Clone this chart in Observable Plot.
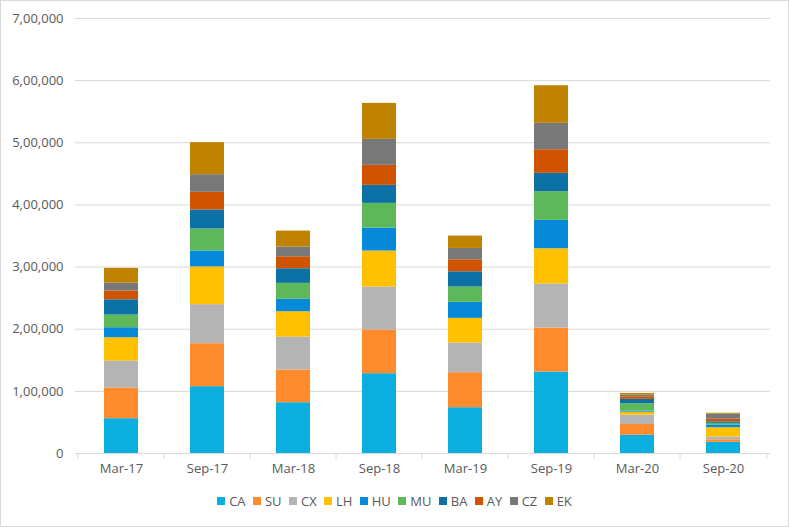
<!DOCTYPE html>
<html><head><meta charset="utf-8">
<script src="https://cdn.jsdelivr.net/npm/d3@7"></script>
<script src="https://cdn.jsdelivr.net/npm/@observablehq/plot@0.6"></script>
<style>
body{margin:0;background:#fff;font-family:"Open Sans",sans-serif;}
#chart{width:787px;height:525px;border:1px solid #d9d9d9;position:relative;overflow:hidden;background:#fff}
.legend{display:flex;justify-content:center;align-items:center;margin-top:3px;font-size:13px;color:#595959;padding-left:0px}
.legend .item{display:flex;align-items:center;margin:0 3.7px}
.legend .sw{width:8px;height:8px;margin-right:4px}
</style></head><body><div id="chart"></div><script>
const periods = ["Mar-17","Sep-17","Mar-18","Sep-18","Mar-19","Sep-19","Mar-20","Sep-20"];
const seriesNames = ["CA","SU","CX","LH","HU","MU","BA","AY","CZ","EK"];
const seriesColors = ["#0AAEDF","#FF8B2C","#B4B4B4","#FFC000","#0689D8","#5DB85A","#0C72A5","#D05400","#787878","#BF8300"];
const CA = [56000,107500,81700,128400,73700,131100,29500,18000];
const SU = [49400,69200,52600,70300,56300,70800,17200,4000];
const CX = [43400,62800,53100,69200,47800,70800,15000,4500];
const LH = [37500,60700,40700,57900,39700,56800,4800,15000];
const HU = [16100,25700,20000,37000,25700,45700,1800,4500];
const MU = [20400,35400,25700,39700,24600,46000,11800,2500];
const BA = [24600,30600,23500,29000,24600,29600,7000,2500];
const AY = [14000,28500,19300,32200,19300,38000,4200,4300];
const CZ = [12900,28300,15600,41800,18300,42500,2700,8000];
const EK = [23600,51500,25700,57900,19800,60500,2700,1500];
const yTicks = [0,100000,200000,300000,400000,500000,600000,700000];

const seriesValues = {CA,SU,CX,LH,HU,MU,BA,AY,CZ,EK};
const data = [];
seriesNames.forEach(s => periods.forEach((p,i) => data.push({period:p, series:s, value:seriesValues[s][i]})));

function fmtIN(n){
  if (n < 1000) return String(n);
  const s = String(Math.round(n));
  const last3 = s.slice(-3);
  let rest = s.slice(0,-3);
  const parts = [];
  while (rest.length > 2){ parts.unshift(rest.slice(-2)); rest = rest.slice(0,-2); }
  if (rest.length) parts.unshift(rest);
  return parts.join(",") + "," + last3;
}

const W = 787, mL = 74, mR = 18;
const step = (W - mL - mR) / periods.length;
const grid = "#d9d9d9";
const txt = "#595959";

const chart = Plot.plot({
  width: W, height: 488,
  marginLeft: mL, marginRight: mR, marginTop: 17, marginBottom: 36,
  style: {fontFamily: '"Open Sans", sans-serif', fontSize: "13px", color: txt, background: "#fff"},
  x: {domain: periods, paddingInner: 0.6, paddingOuter: 0.3, label: null},
  y: {domain: [0, 700000], label: null},
  color: {domain: seriesNames, range: seriesColors},
  marks: [
    Plot.gridY(yTicks, {stroke: grid, strokeOpacity: 1, strokeWidth: 1}),
    Plot.barY(data, {x: "period", y: "value", fill: "series"}),
    Plot.ruleY([0], {stroke: grid, strokeWidth: 1}),
    Plot.ruleX(periods, {x: d => d, dx: -step/2, y1: 0, y2: 0, insetBottom: -6, stroke: grid}),
    Plot.ruleX(periods.slice(-1), {x: d => d, dx: step/2, y1: 0, y2: 0, insetBottom: -6, stroke: grid}),
    Plot.axisY({ticks: yTicks, tickFormat: fmtIN, tickSize: 0, tickPadding: 12, fill: txt, fontSize: 13}),
    Plot.axisX({tickSize: 0, tickPadding: 10, fill: txt, fontSize: 13})
  ]
});

const root = document.getElementById("chart");
root.appendChild(chart);
const leg = document.createElement("div");
leg.className = "legend";
seriesNames.forEach((s,i) => {
  const it = document.createElement("div"); it.className = "item";
  const sw = document.createElement("span"); sw.className = "sw"; sw.style.background = seriesColors[i];
  const t = document.createElement("span"); t.textContent = s;
  it.appendChild(sw); it.appendChild(t); leg.appendChild(it);
});
root.appendChild(leg);
</script></body></html>
